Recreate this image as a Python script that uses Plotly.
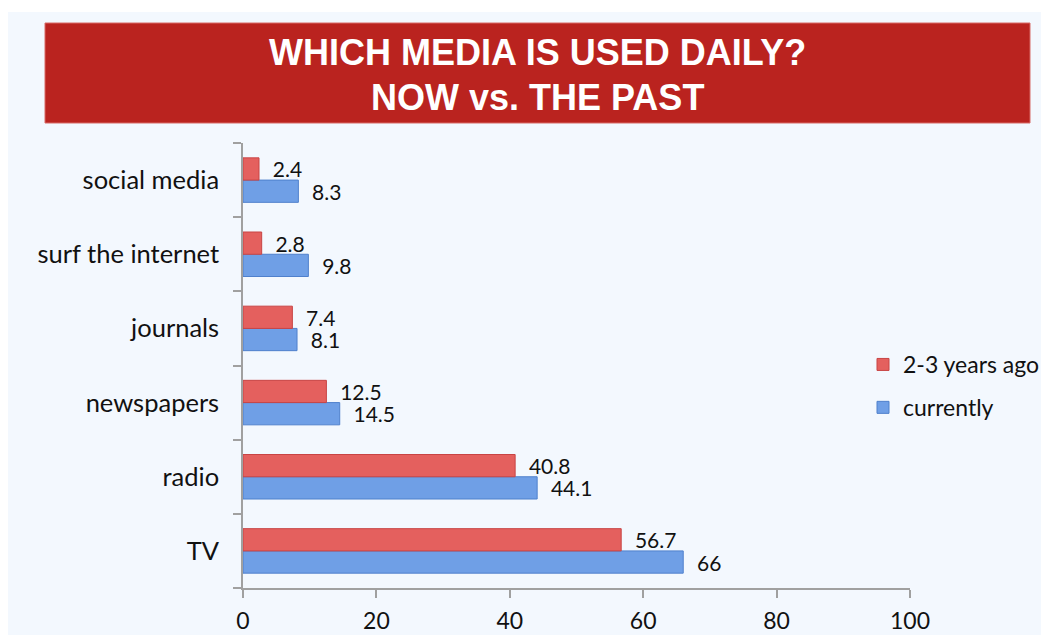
import plotly.graph_objects as go

# ---- data ----
categories = ["TV", "radio", "newspapers", "journals", "surf the internet", "social media"]
past_values = [56.7, 40.8, 12.5, 7.4, 2.8, 2.4]
current_values = [66, 44.1, 14.5, 8.1, 9.8, 8.3]
past_name = "2-3 years ago"
current_name = "currently"
x_ticks = [0, 20, 40, 60, 80, 100]
title_lines = ["WHICH MEDIA IS USED DAILY?", "NOW vs. THE PAST"]

OFF = 8  # page body margin
W, H = 1049 - OFF, 635 - OFF
L, R, T, B = 243 - OFF, 139, 143 - OFF, 47
PW, PH = W - L - R, H - T - B


def px(x):
    return (x - OFF - L) / PW


def py(y):
    return (H - B - (y - OFF)) / PH


def cx(x):
    return (x - OFF) / W


def cy(y):
    return 1 - (y - OFF) / H


font_main = "Lato, 'Open Sans', sans-serif"
title_font = "'Liberation Sans', Arial, sans-serif"
pad = "\u00a0\u00a0"

fig = go.Figure()
fig.add_trace(go.Bar(
    y=categories, x=current_values, orientation="h", name=current_name,
    marker=dict(color="#6f9fe6", line=dict(color="#4f80cc", width=1)),
    text=[pad + f"{v:g}" for v in current_values], textposition="outside",
    textfont=dict(size=21, color="#111111", family=font_main),
    constraintext="none", cliponaxis=False, legendrank=2, legendgroup="b",
))
fig.add_trace(go.Bar(
    y=categories, x=past_values, orientation="h", name=past_name,
    marker=dict(color="#e4605e", line=dict(color="#c84444", width=1)),
    text=[pad + f"{v:g}" for v in past_values], textposition="outside",
    textfont=dict(size=21, color="#111111", family=font_main),
    constraintext="none", cliponaxis=False, legendrank=1, legendgroup="a",
))

shapes = [
    dict(type="rect", xref="paper", yref="paper", x0=px(0), x1=px(1049), y0=py(12), y1=py(0),
         fillcolor="white", line=dict(width=0), layer="below"),
    dict(type="rect", xref="paper", yref="paper", x0=px(45), x1=px(1030), y0=py(123), y1=py(23),
         fillcolor="#ba231f", line=dict(color="#d86a66", width=1), layer="above"),
]

annotations = [
    dict(xref="paper", yref="paper", x=px(537), y=py(53), text=title_lines[0], showarrow=False,
         font=dict(size=36, color="white", family=title_font, weight="bold"),
         xanchor="center", yanchor="middle"),
    dict(xref="paper", yref="paper", x=px(537), y=py(98), text=title_lines[1], showarrow=False,
         font=dict(size=36, color="white", family=title_font, weight="bold"),
         xanchor="center", yanchor="middle"),
]

fig.update_layout(
    template="none",
    width=W, height=H, autosize=False,
    margin=dict(l=L, r=R, t=T, b=B, pad=0, autoexpand=False),
    paper_bgcolor="#f3f8fe", plot_bgcolor="#f3f8fe",
    barmode="group", bargap=0.4, bargroupgap=0,
    font=dict(family=font_main, size=22, color="#111111"),
    showlegend=True,
    legend=dict(xref="container", yref="container", x=cx(863), y=cy(343),
                xanchor="left", yanchor="top",
                bgcolor="rgba(0,0,0,0)", borderwidth=0,
                font=dict(size=23, family=font_main, color="#111111"),
                tracegroupgap=10),
    xaxis=dict(range=[0, 100], tickvals=x_ticks, showgrid=False, zeroline=False, automargin=False,
               showline=True, linecolor="#a0a0a0", linewidth=1.5,
               ticks="outside", ticklen=8, tickcolor="#a0a0a0", tickwidth=1.5,
               tickfont=dict(size=23, family=font_main, color="#111111"), ticklabelstandoff=4),
    yaxis=dict(categoryorder="array", categoryarray=categories, showgrid=False, zeroline=False,
               automargin=False,
               showline=True, linecolor="#a0a0a0", linewidth=1.5,
               ticks="outside", ticklen=8, tickcolor="#a0a0a0", tickwidth=1.5, tickson="boundaries",
               tickfont=dict(size=25.5, family=font_main, color="#111111"), ticklabelstandoff=17),
    shapes=shapes, annotations=annotations,
)

fig.write_html("out.html", config={"displayModeBar": False})
